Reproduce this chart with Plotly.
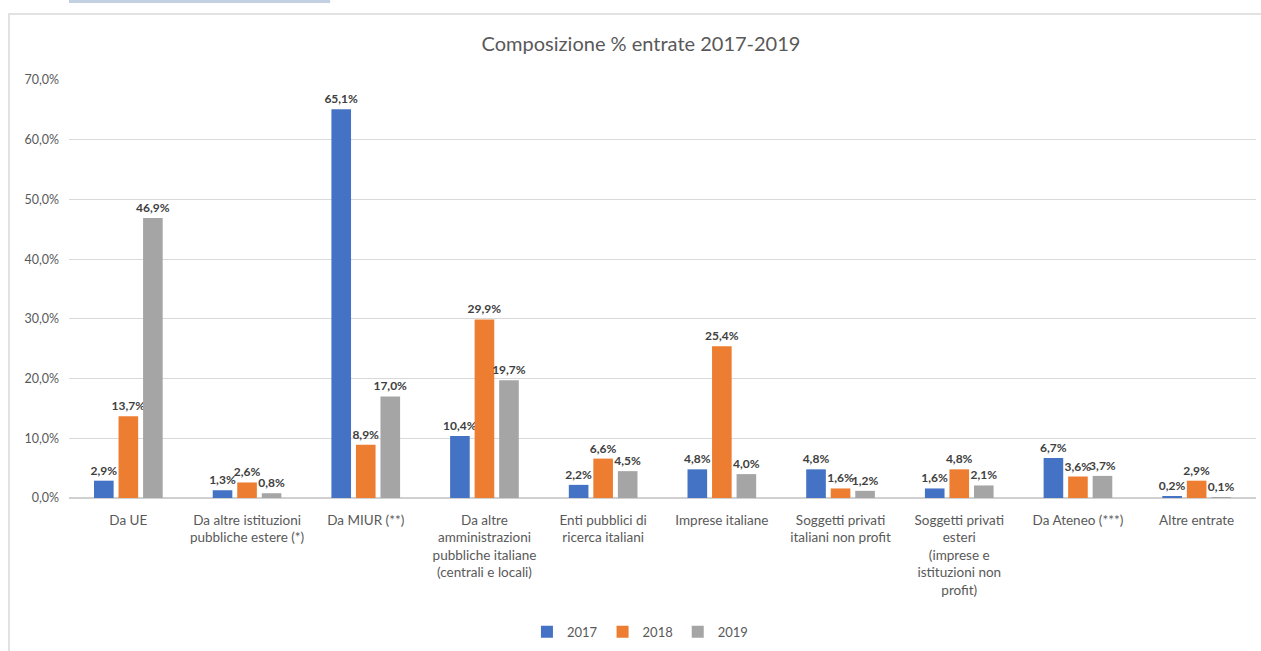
import plotly.graph_objects as go

categories = [
    "Da UE",
    "Da altre istituzioni<br>pubbliche estere (*)",
    "Da MIUR (**)",
    "Da altre<br>amministrazioni<br>pubbliche italiane<br>(centrali e locali)",
    "Enti pubblici di<br>ricerca italiani",
    "Imprese italiane",
    "Soggetti privati<br>italiani non profit",
    "Soggetti privati<br>esteri<br>(imprese e<br>istituzioni non<br>profit)",
    "Da Ateneo (***)",
    "Altre entrate",
]
years = ["2017", "2018", "2019"]
v2017 = [2.9, 1.3, 65.1, 10.4, 2.2, 4.8, 4.8, 1.6, 6.7, 0.2]
v2018 = [13.7, 2.6, 8.9, 29.9, 6.6, 25.4, 1.6, 4.8, 3.6, 2.9]
v2019 = [46.9, 0.8, 17.0, 19.7, 4.5, 4.0, 1.2, 2.1, 3.7, 0.1]
colors = ["#4472C4", "#ED7D31", "#A5A5A5"]

FONT = "Lato, 'Open Sans', sans-serif"

fig = go.Figure()
for name, vals, col in zip(years, [v2017, v2018, v2019], colors):
    fig.add_trace(go.Bar(
        name=name, x=categories, y=vals, marker_color=col,
        marker_line_width=0,
        text=vals, texttemplate="%{y:.1f}%", textposition="outside",
        constraintext="none",
        textfont=dict(family=FONT, size=12, color="#404040", weight="bold"),
        cliponaxis=False,
    ))

fig.update_layout(
    width=1261, height=651,
    separators=",.",
    paper_bgcolor="white", plot_bgcolor="white",
    margin=dict(l=69, r=5, t=80, b=153, autoexpand=False),
    barmode="group", bargap=0.38, bargroupgap=0.2,
    title=dict(text="Composizione % entrate 2017-2019", x=641 / 1261, xanchor="center",
               y=1 - 44 / 651, yanchor="middle",
               font=dict(family=FONT, size=20, color="#595959")),
    font=dict(family=FONT, size=13, color="#595959"),
    legend=dict(orientation="h", x=0.481, xanchor="center", y=-0.32, yanchor="middle",
                font=dict(size=13, color="#595959"), itemwidth=30, traceorder="normal"),
    showlegend=True,
)
fig.update_yaxes(range=[0, 70], dtick=10, tickformat=".1f", ticksuffix="%",
                 automargin=False, ticklabelstandoff=9,
                 showgrid=True, gridcolor="#D9D9D9", gridwidth=1,
                 zeroline=True, zerolinecolor="#D0D0D0", zerolinewidth=2,
                 tickfont=dict(size=12.5, color="#595959"), ticks="", ticklen=0)
fig.update_xaxes(showline=False, automargin=False, ticklabelstandoff=12,
                 tickfont=dict(size=13.5, color="#595959"), ticks="")

# chart frame (left/top border of the chart area)
fig.add_shape(type="rect", xref="paper", yref="paper",
              x0=-(69 - 9) / 1187, x1=1.05, y0=-0.5, y1=(498 - 14) / 418,
              line=dict(color="#D9D9D9", width=1.5), fillcolor="rgba(0,0,0,0)", layer="below")
# decorative strip at top-left
fig.add_shape(type="rect", xref="paper", yref="paper",
              x0=0.0, x1=0.22, y0=(498 - 3) / 418, y1=(498 + 2) / 418,
              line=dict(width=0), fillcolor="rgba(120,150,190,0.45)", layer="below")

fig.write_html("out.html", config={"displayModeBar": False},
               post_script="document.body.style.margin='0';document.body.style.overflow='hidden';")
